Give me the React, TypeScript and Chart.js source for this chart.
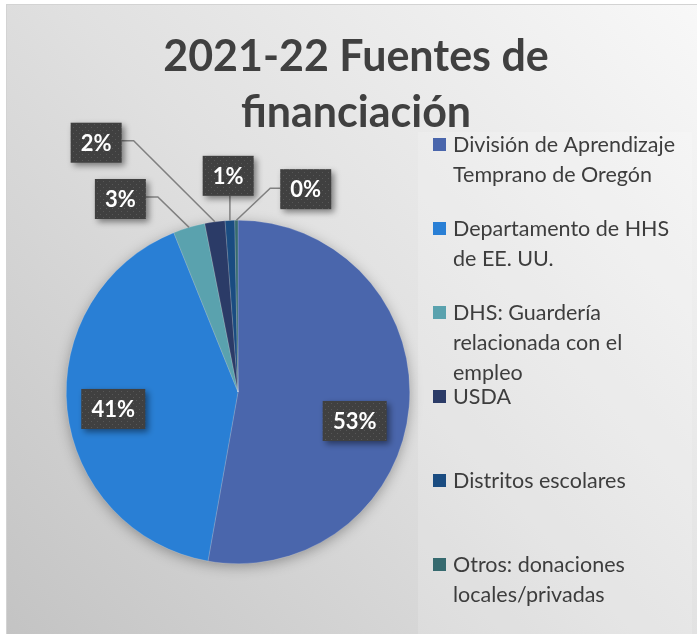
import { useEffect, useRef } from "react";
import { Chart, registerables } from "chart.js";

Chart.register(...registerables);

const TITLE_LINES = ["2021-22 Fuentes de", "financiación"];

const categories = [
  "División de Aprendizaje Temprano de Oregón",
  "Departamento de HHS de EE. UU.",
  "DHS: Guardería relacionada con el empleo",
  "USDA",
  "Distritos escolares",
  "Otros: donaciones locales/privadas",
];

const legendLines = [
  ["División de Aprendizaje", "Temprano de Oregón"],
  ["Departamento de HHS", "de EE. UU."],
  ["DHS: Guardería", "relacionada con el", "empleo"],
  ["USDA"],
  ["Distritos escolares"],
  ["Otros: donaciones", "locales/privadas"],
];

const shares = [52.8, 41.1, 3.0, 1.9, 0.9, 0.3];

const colors = ["#4A66AC", "#297FD5", "#5AA2AE", "#2B3B67", "#1A4C81", "#366A6F"];

// label placement relative to slice mid-angle: [angle offset in degrees, radius factor]
const labelPlacement: [number, number][] = [
  [8.9, 0.7],
  [-1.8, 0.733],
  [-14.8, 1.316],
  [-21.9, 1.67],
  [0.1, 1.26],
  [19.0, 1.245],
];

const FONT = "Lato, 'Open Sans', sans-serif";

function makeDotPattern(ctx: CanvasRenderingContext2D) {
  const c = document.createElement("canvas");
  c.width = 6;
  c.height = 6;
  const p = c.getContext("2d")!;
  p.fillStyle = "#404040";
  p.fillRect(0, 0, 6, 6);
  p.fillStyle = "#575757";
  p.fillRect(1, 1, 1, 1);
  p.fillRect(4, 4, 1, 1);
  return ctx.createPattern(c, "repeat");
}

const decorPlugin = {
  id: "decor",
  beforeDraw(chart: any) {
    const { ctx, width, height } = chart;
    ctx.save();
    ctx.fillStyle = "#ffffff";
    ctx.fillRect(0, 0, width, height);
    const g = ctx.createLinearGradient(width, 0, 0, height);
    g.addColorStop(0, "#f8f8f8");
    g.addColorStop(0.5, "#e0e0e0");
    g.addColorStop(1, "#c3c3c3");
    ctx.fillStyle = g;
    ctx.fillRect(6, 4, width, height);
    ctx.strokeStyle = "#d3d3d3";
    ctx.lineWidth = 1;
    ctx.strokeRect(6.5, 4.5, width, height);
    // legend panel
    ctx.fillStyle = "rgba(255,255,255,0.16)";
    ctx.fillRect(418, 132, 274, height - 132);
    // title
    ctx.fillStyle = "#404040";
    ctx.font = `bold 43px ${FONT}`;
    ctx.textAlign = "center";
    ctx.textBaseline = "alphabetic";
    TITLE_LINES.forEach((t, i) => ctx.fillText(t, 356, 71 + i * 56));
    ctx.restore();
  },
  beforeDatasetsDraw(chart: any) {
    const meta = chart.getDatasetMeta(0);
    const a = meta.data[0];
    if (!a) return;
    const { ctx } = chart;
    ctx.save();
    ctx.shadowColor = "rgba(0,0,0,0.35)";
    ctx.shadowBlur = 14;
    ctx.shadowOffsetY = 3;
    ctx.fillStyle = "#888";
    ctx.beginPath();
    ctx.arc(a.x, a.y, a.outerRadius - 1, 0, Math.PI * 2);
    ctx.fill();
    ctx.restore();
  },
  afterDatasetsDraw(chart: any) {
    const { ctx } = chart;
    const meta = chart.getDatasetMeta(0);
    const values: number[] = chart.data.datasets[0].data;
    const total = values.reduce((s, v) => s + v, 0);
    const pattern = makeDotPattern(ctx);
    meta.data.forEach((arc: any, i: number) => {
      const mid = (arc.startAngle + arc.endAngle) / 2;
      const [dDeg, f] = labelPlacement[i];
      const th = mid + (dDeg * Math.PI) / 180;
      const R = arc.outerRadius;
      const lx = arc.x + Math.cos(th) * R * f;
      const ly = arc.y + Math.sin(th) * R * f;
      const text = Math.round((values[i] / total) * 100) + "%";
      ctx.save();
      ctx.font = `bold 22px ${FONT}`;
      const tw = ctx.measureText(text).width;
      const bw = Math.round(tw + 20);
      const bh = 40;
      const bx = lx - bw / 2;
      const by = ly - bh / 2;
      if (f > 1) {
        const px = arc.x + Math.cos(mid) * R;
        const py = arc.y + Math.sin(mid) * R;
        ctx.strokeStyle = "#808080";
        ctx.lineWidth = 1.5;
        ctx.beginPath();
        if (px > bx + 4 && px < bx + bw - 4) {
          ctx.moveTo(px, by + bh);
          ctx.lineTo(px, py);
        } else if (lx < px) {
          ctx.moveTo(bx + bw, ly - 2);
          ctx.lineTo(bx + bw + 12, ly - 2);
          ctx.lineTo(px, py);
        } else {
          ctx.moveTo(bx, ly - 1);
          ctx.lineTo(bx - 10, ly - 1);
          ctx.lineTo(px, py);
        }
        ctx.stroke();
      }
      ctx.shadowColor = "rgba(0,0,0,0.45)";
      ctx.shadowBlur = 6;
      ctx.shadowOffsetX = 3;
      ctx.shadowOffsetY = 3;
      ctx.fillStyle = pattern || "#404040";
      ctx.fillRect(bx, by, bw, bh);
      ctx.shadowColor = "transparent";
      ctx.fillStyle = "#ffffff";
      ctx.textAlign = "center";
      ctx.textBaseline = "middle";
      ctx.fillText(text, lx, ly + 1);
      ctx.restore();
    });
  },
  afterDraw(chart: any) {
    const { ctx } = chart;
    const colorsUsed: string[] = chart.data.datasets[0].backgroundColor;
    ctx.save();
    ctx.font = `21.5px ${FONT}`;
    ctx.textAlign = "left";
    ctx.textBaseline = "middle";
    legendLines.forEach((lines, i) => {
      const y0 = 145 + i * 84;
      ctx.fillStyle = colorsUsed[i];
      ctx.fillRect(433, y0 - 7, 13, 13);
      ctx.fillStyle = "#3d3d3d";
      lines.forEach((ln, j) => ctx.fillText(ln, 453, y0 + j * 30));
    });
    ctx.restore();
  },
};

export default function App() {
  const ref = useRef<HTMLCanvasElement | null>(null);
  useEffect(() => {
    if (!ref.current) return;
    const chart = new Chart(ref.current, {
      type: "pie",
      data: {
        labels: categories,
        datasets: [
          {
            data: shares,
            backgroundColor: colors,
            borderColor: "rgba(255,255,255,0.35)",
            borderWidth: 0.5,
          },
        ],
      },
      options: {
        animation: false,
        responsive: false,
        devicePixelRatio: 1,
        layout: { padding: { left: 66, right: 287, top: 220, bottom: 70 } },
        plugins: {
          legend: { display: false },
          tooltip: { enabled: false },
          title: { display: false },
        },
      },
      plugins: [decorPlugin],
    });
    return () => chart.destroy();
  }, []);
  return (
    <canvas
      ref={ref}
      width={697}
      height={634}
      style={{ position: "fixed", left: 0, top: 0, width: 697, height: 634 }}
    />
  );
}
